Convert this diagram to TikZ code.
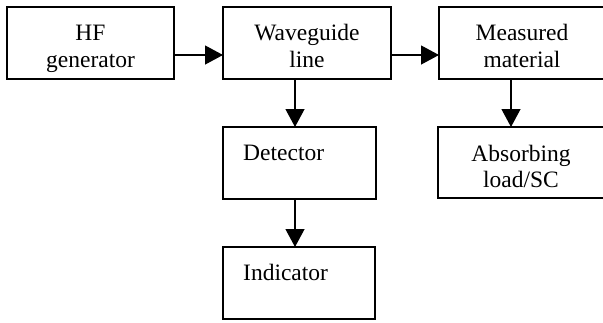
\documentclass[tikz,border=0pt]{standalone}
\usepackage{fontspec}
\setmainfont{Liberation Serif}
\usetikzlibrary{arrows.meta,calc}
\tikzset{
  box/.style={draw, line width=1.2pt, inner sep=0pt, outer sep=0pt, anchor=north west},
  txt/.style={font=\fontsize{23.5}{27}\selectfont, inner sep=0pt, anchor=base},
  txtl/.style={txt, anchor=base west},
  arr/.style={line width=1.2pt, -{Triangle[length=18pt,width=19pt]}}
}
\begin{document}
\begin{tikzpicture}[x=1pt,y=1pt]
\useasboundingbox (0,0) rectangle (603,-322);
\clip (0,0) rectangle (603,-322);
\fill[white] (0,0) rectangle (603,-322);
% boxes
\node[box, minimum width=167pt, minimum height=72pt] (hf) at (7,-7) {};
\node[box, minimum width=168pt, minimum height=72pt] (wg) at (223,-7) {};
\node[box, minimum width=168pt, minimum height=72pt] (mm) at (439,-7) {};
\node[box, minimum width=153pt, minimum height=72pt] (det) at (223,-127) {};
\node[box, minimum width=168pt, minimum height=71pt] (ab) at (438,-127) {};
\node[box, minimum width=152pt, minimum height=72pt] (ind) at (223,-247) {};
% texts
\node[txt] (hf1) at (90.5,-40) {HF};
\node[txt] (hf2) at (90.5,-67) {generator};
\node[txt] (wg1) at (307,-40) {Waveguide};
\node[txt] (wg2) at (307,-67) {line};
\node[txt] (mm1) at (522,-40) {Measured};
\node[txt] (mm2) at (522,-67) {material};
\node[txtl] (det1) at (243,-160) {Detector};
\node[txt] (ab1) at (521,-161) {Absorbing};
\node[txt] (ab2) at (521,-187) {load/SC};
\node[txtl] (ind1) at (243,-280) {Indicator};
% connectors
\draw[arr] (hf.east |- 0,-55) -- (wg.west |- 0,-55);
\draw[arr] (wg.east |- 0,-55) -- (mm.west |- 0,-55);
\draw[arr] ([xshift=-12pt]wg.south) -- ([xshift=-4.5pt]det.north);
\draw[arr] ([xshift=-4.5pt]det.south) -- ([xshift=-4pt]ind.north);
\draw[arr] ([xshift=-12pt]mm.south) -- ([xshift=-11pt]ab.north);
\end{tikzpicture}
\end{document}
